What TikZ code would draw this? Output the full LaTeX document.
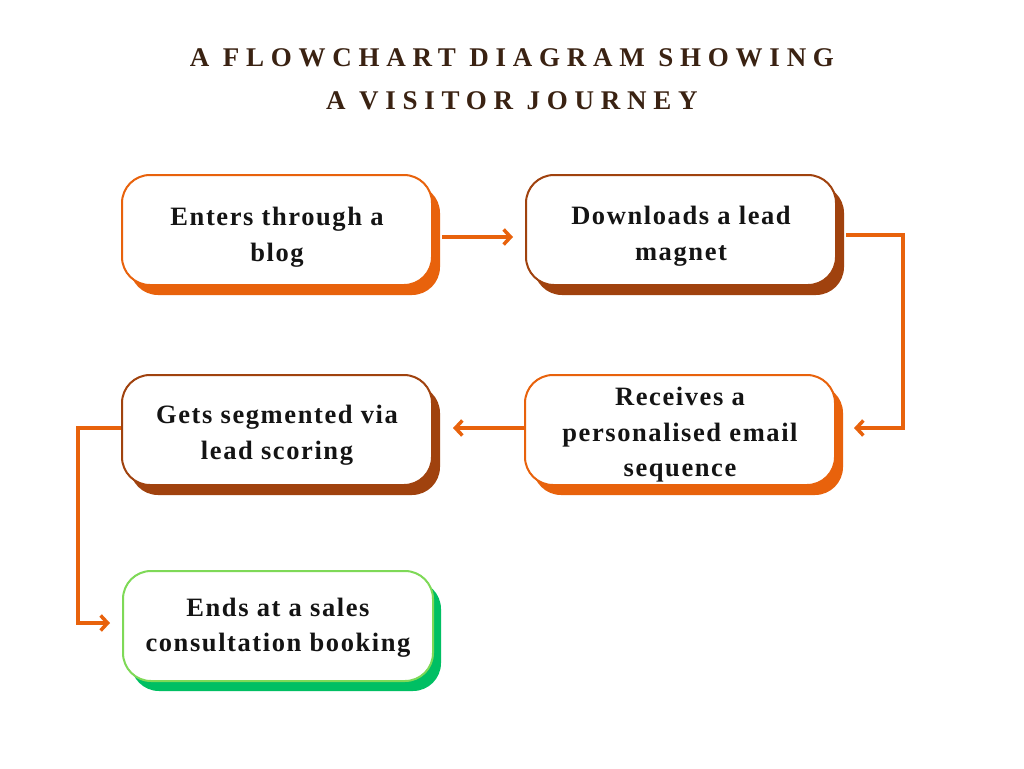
\documentclass[tikz,border=0pt]{standalone}
\usepackage{fontspec}
\setmainfont{Liberation Serif}
\newfontfamily\titlefont[LetterSpace=25]{Liberation Serif}
\newfontfamily\boxfont[LetterSpace=6]{Liberation Serif}
\usetikzlibrary{arrows.meta,shadows}
\definecolor{orng}{HTML}{E8620C}
\definecolor{brwn}{HTML}{A0420E}
\definecolor{lgrn}{HTML}{7ED957}
\definecolor{dgrn}{HTML}{00BF63}
\definecolor{ttl}{HTML}{3A2212}
\definecolor{txt}{HTML}{141414}
\tikzset{
  card/.style={draw=#1, line width=2pt, fill=white, rounded corners=28pt,
    minimum width=310pt, minimum height=110pt,
    drop shadow={shadow xshift=8pt, shadow yshift=-10pt, fill=#1, opacity=1}},
  cardtext/.style={align=center, inner sep=0pt,
    font=\boxfont\bfseries\fontsize{26.5}{35.5}\selectfont, text=txt},
  conn/.style={draw=orng, line width=3.5pt, -{Straight Barb[length=7pt,width=15pt,line width=3.5pt]}},
}
\begin{document}
\begin{tikzpicture}[x=1pt,y=-1pt]
\fill[white] (0,0) rectangle (1024,768);
\useasboundingbox (0,0) rectangle (1024,768);
\node[font=\titlefont\bfseries\fontsize{27}{43}\selectfont, text=ttl, align=center] (title) at (512,79)
  {A FLOWCHART DIAGRAM SHOWING\\A VISITOR JOURNEY};
\node[card=orng] (b1) at (277,230) {};
\node[card=brwn] (b2) at (681,230) {};
\node[card=orng] (b3) at (680,430) {};
\node[card=brwn] (b4) at (277,430) {};
\node[card=dgrn, draw=lgrn] (b5) at (278,626) {};
\node[cardtext] (t1) at ([yshift=-7pt]b1.center) {Enters through a\\blog};
\node[cardtext] (t2) at ([yshift=-6pt]b2.center) {Downloads a lead\\magnet};
\node[cardtext] (t3) at ([yshift=-5pt]b3.center) {Receives a\\personalised email\\sequence};
\node[cardtext] (t4) at ([yshift=-5pt]b4.center) {Gets segmented via\\lead scoring};
\node[cardtext] (t5) at ([yshift=-1.5pt]b5.center) {Ends at a sales\\consultation booking};
\coordinate (c2a) at (903,235);
\coordinate (c2b) at (903,428);
\coordinate (c4a) at (78,428);
\coordinate (c4b) at (78,623);
\draw[conn] ([xshift=9pt,yshift=-7pt]b1.east) -- ([xshift=-12pt,yshift=-7pt]b2.west);
\draw[conn] ([xshift=9pt,yshift=-5pt]b2.east) -- (c2a) -- (c2b) -- ([xshift=18pt,yshift=2pt]b3.east);
\draw[conn] ([yshift=2pt]b3.west) -- ([xshift=20pt,yshift=2pt]b4.east);
\draw[conn] ([yshift=2pt]b4.west) -- (c4a) -- (c4b) -- ([xshift=-12pt,yshift=3pt]b5.west);
\end{tikzpicture}
\end{document}
